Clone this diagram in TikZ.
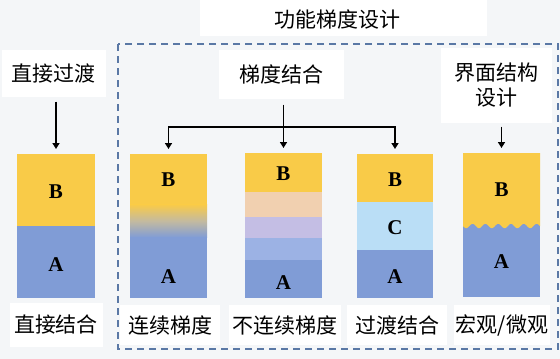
\documentclass[tikz,border=0pt]{standalone}
\usepackage{fontspec}
\newfontfamily\cjk{Noto Sans CJK SC}
\newfontfamily\lat{Liberation Serif}
\usetikzlibrary{arrows.meta}
\definecolor{bg}{RGB}{244,246,248}
\definecolor{yel}{RGB}{249,203,72}
\definecolor{blu}{RGB}{128,156,214}
\definecolor{peach}{RGB}{241,208,176}
\definecolor{lav}{RGB}{196,190,228}
\definecolor{lblu}{RGB}{156,178,228}
\definecolor{cblu}{RGB}{186,222,246}
\definecolor{dashcol}{RGB}{90,120,165}
\tikzset{
  lbl/.style={font=\cjk\fontsize{21}{25}\selectfont, fill=white, inner sep=0pt, align=center},
  letter/.style={font=\lat\bfseries\fontsize{21}{23}\selectfont, inner sep=0pt},
  blk/.style={minimum height=144pt, inner sep=0pt, outer sep=0pt},
  arr/.style={line width=1.8pt, -{Triangle[width=7pt,length=6pt]}, shorten >=5pt}
}
\begin{document}
\begin{tikzpicture}[x=1pt,y=-1pt]
\useasboundingbox (0,0) rectangle (560,359);
\fill[bg] (0,0) rectangle (560,359);
\fill[white] (200,0) rectangle (487,36);
\node[lbl, fill=none] (title) at (337,19) {功能梯度设计};
\draw[dashcol, line width=1.5pt, dash pattern=on 7pt off 5pt] (118,44) rectangle (558,349);

% blocks
\node[blk, minimum width=78pt] (b1) at (56,226) {};
\node[blk, minimum width=77pt] (b2) at (168.5,226) {};
\node[blk, minimum width=77pt, minimum height=145pt] (b3) at (283.5,225.5) {};
\node[blk, minimum width=76pt] (b4) at (395,226) {};
\node[blk, minimum width=77pt] (b5) at (501.5,225) {};

% block 1
\fill[yel] (b1.north west) rectangle (95,226);
\fill[blu] (17,226) rectangle (b1.south east);
% block 2
\fill[yel] (b2.north west) rectangle (207,205);
\shade[top color=yel, bottom color=blu, middle color={rgb,255:red,195;green,186;blue,160}] (130,204.5) rectangle (207,237.5);
\fill[blu] (130,237) rectangle (b2.south east);
% block 3
\fill[yel] (b3.north west) rectangle (322,192);
\fill[peach] (245,192) rectangle (322,217);
\fill[lav] (245,217) rectangle (322,238);
\fill[lblu] (245,238) rectangle (322,260);
\fill[blu] (245,260) rectangle (b3.south east);
% block 4
\fill[yel] (b4.north west) rectangle (433,202);
\fill[cblu] (357,202) rectangle (433,250);
\fill[blu] (357,250) rectangle (b4.south east);
% block 5
\fill[blu] (b5.north west) rectangle (b5.south east);
\fill[yel] (463,153) -- (540,153) -- (540,226) -- plot[domain=77:0, samples=90] ({463+\x},{226+2.2*sin(28.125*\x)}) -- cycle;

% letters
\node[letter] (B1) at (56,192) {B};
\node[letter] (A1) at (56,265) {A};
\node[letter] (B2) at (168.5,180) {B};
\node[letter] (A2) at (168.5,277) {A};
\node[letter] (B3) at (283.5,174) {B};
\node[letter] (A3) at (283.5,283) {A};
\node[letter] (B4) at (395,180) {B};
\node[letter] (C4) at (395,228) {C};
\node[letter] (A4) at (395,277) {A};
\node[letter] (B5) at (501.5,190) {B};
\node[letter] (A5) at (501.5,262) {A};

% top labels
\node[lbl, minimum width=104pt, minimum height=47pt] (t1) at (54,73) {直接过渡};
\node[lbl, minimum width=125pt, minimum height=49pt] (t2) at (281,74) {梯度结合};
\node[lbl, minimum width=111pt, minimum height=75pt] (t3) at (496,85) {界面结构\\设计};

% bottom labels
\node[lbl, minimum width=93pt, minimum height=44pt] (l1) at (56,325) {直接结合};
\node[lbl, minimum width=100pt, minimum height=40pt] (l2) at (170,325) {连续梯度};
\node[lbl, minimum width=112pt, minimum height=40pt] (l3) at (285,325) {不连续梯度};
\node[lbl, minimum width=100pt, minimum height=40pt] (l4) at (397,325) {过渡结合};
\node[lbl, minimum width=96pt, minimum height=40pt] (l5) at (502,325) {宏观/微观};

% arrows
\coordinate (jy) at (0,127);
\draw[arr, shorten <=5pt] (t1.south -| b1.north) -- (b1.north);
\draw[arr, shorten <=6pt] (t2.south -| b3.north) -- (b3.north);
\draw[arr] (b3.north |- jy) -| (b2.north);
\draw[arr] (b3.north |- jy) -| (b4.north);
\draw[arr, shorten <=4pt] (t3.south -| b5.north) -- (b5.north);
\end{tikzpicture}
\end{document}
